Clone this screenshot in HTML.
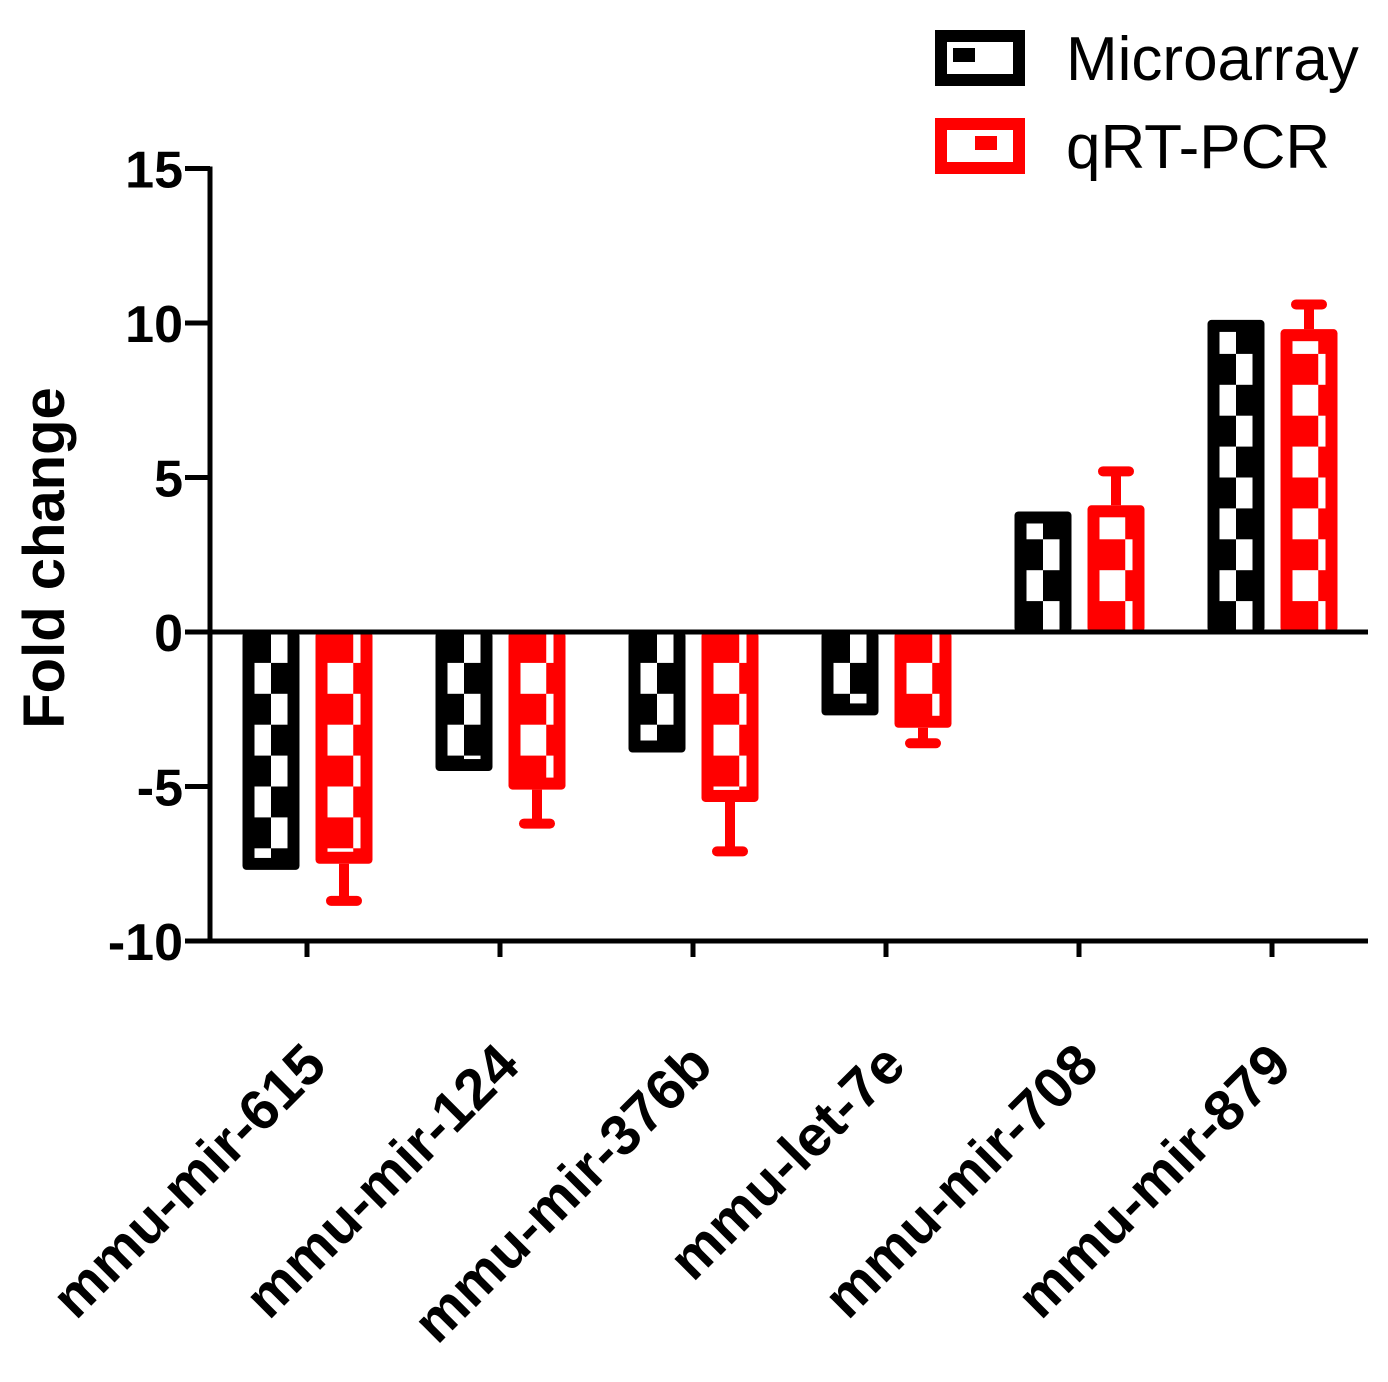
<!DOCTYPE html>
<html><head><meta charset="utf-8"><style>
html,body{margin:0;padding:0;background:#fff;}
svg{display:block;font-family:"Liberation Sans",sans-serif;}
</style></head><body>
<svg id="chart" width="1388" height="1382" viewBox="0 0 1388 1382">
<g id="bars"></g>
<g id="axes"></g>
<text x="0" y="0" transform="translate(64,558) rotate(-90)" text-anchor="middle" font-size="58" font-weight="bold">Fold change</text>
<g>
  <g>
    <rect x="941" y="36" width="78" height="44" fill="#fff" stroke="#000" stroke-width="12"/>
    <rect x="953" y="48" width="22" height="14" fill="#000"/>
    <text x="1066" y="80" font-size="62">Microarray</text>
  </g>
  <g>
    <rect x="941" y="124" width="78" height="44" fill="#fff" stroke="#f00" stroke-width="12"/>
    <rect x="975" y="136" width="22" height="14" fill="#f00"/>
    <text x="1066" y="168" font-size="62">qRT-PCR</text>
  </g>
</g>
</svg>
<script>
const categories = ["mmu-mir-615","mmu-mir-124","mmu-mir-376b","mmu-let-7e","mmu-mir-708","mmu-mir-879"];
const microarray = [-7.7,-4.5,-3.9,-2.7,3.9,10.1];
const qrtpcr = [-7.5,-5.1,-5.5,-3.1,4.1,9.8];
const qrtpcrErr = [1.2,1.1,1.6,0.5,1.1,0.8];
const yTicks = [15,10,5,0,-5,-10];

const NS="http://www.w3.org/2000/svg";
const y0=632, ppu=30.9;
function yS(v){return y0 - v*ppu;}
function xC(i){return 307 + i*193;}
function mk(tag,attrs,parent){const e=document.createElementNS(NS,tag);for(const k in attrs)e.setAttribute(k,attrs[k]);parent.appendChild(e);return e;}
const bars=document.getElementById('bars'), axes=document.getElementById('axes');
const W=57, bw=12;
function drawBar(i,v,color,offset,kind){
  const cx=xC(i)+offset, x=cx-W/2;
  const top=Math.min(yS(v),y0), bot=Math.max(yS(v),y0);
  const g=mk('g',{},bars);
  
  
  mk('rect',{x:x,y:top,width:W,height:bot-top,fill:color,rx:4},g);
  const ix=x+bw, iw=W-2*bw;
  const a=kind==='microarray'?iw/2:iw*0.78;
  const n=Math.ceil(Math.abs(v));
  for(let r=0;r<n;r++){
    const u1=r, u2=Math.min(r+1,Math.abs(v)-0.35);
    if(u2<=u1) continue;
    let ya=v>0?yS(u2):yS(-u1), yb=v>0?yS(u1):yS(-u2);
    ya=Math.max(ya,top+(v>0?bw:0)); yb=Math.min(yb,bot-(v<0?bw:0));
    if(yb<=ya) continue;
    const left=(r%2===1);
    mk('rect',{x:left?ix:ix+a,y:ya,width:left?a:iw-a,height:yb-ya,fill:'#fff'},g);
  }
  return {cx, end:yS(v)};
}
for(let i=0;i<categories.length;i++){
  drawBar(i,microarray[i],'#000',-36,'microarray');
  const b=drawBar(i,qrtpcr[i],'#f00',37,'qrtpcr');
  const v=qrtpcr[i], e=qrtpcrErr[i]*(v<0?-1:1);
  const eg=mk('g',{},bars);
  
  
  mk('line',{x1:b.cx,x2:b.cx,y1:yS(v),y2:yS(v+e),stroke:'#f00','stroke-width':10},eg);
  mk('line',{x1:b.cx-13,x2:b.cx+13,y1:yS(v+e),y2:yS(v+e),stroke:'#f00','stroke-width':10,'stroke-linecap':'round'},eg);
}
mk('line',{x1:210,x2:210,y1:yS(15)-2,y2:yS(-10)+2,stroke:'#000','stroke-width':5},axes);
mk('line',{x1:185,x2:1368,y1:y0,y2:y0,stroke:'#000','stroke-width':5},axes);
mk('line',{x1:185,x2:1368,y1:yS(-10),y2:yS(-10),stroke:'#000','stroke-width':5},axes);
yTicks.forEach(t=>{
  mk('line',{x1:185,x2:210,y1:yS(t),y2:yS(t),stroke:'#000','stroke-width':5},axes);
  const tx=mk('text',{x:183,y:yS(t)+19,'text-anchor':'end','font-size':52,'font-weight':'bold'},axes);
  tx.textContent=t;
  
  
});
categories.forEach((c,i)=>{
  mk('line',{x1:xC(i),x2:xC(i),y1:yS(-10),y2:yS(-10)+16,stroke:'#000','stroke-width':5},axes);
  const tx=mk('text',{transform:`translate(${xC(i)+22},1068) rotate(-45)`,'text-anchor':'end','font-size':57,'font-weight':'bold'},axes);
  tx.textContent=c;
  
  
});
</script>
</body></html>
